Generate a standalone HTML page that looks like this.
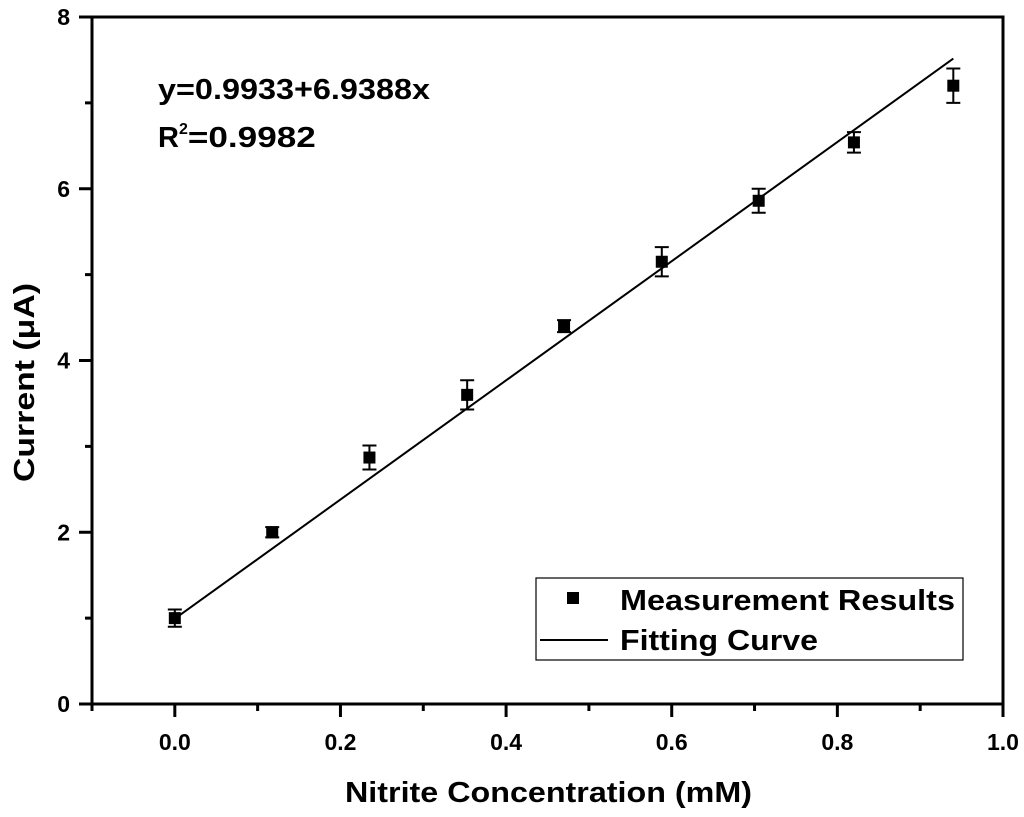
<!DOCTYPE html>
<html><head><meta charset="utf-8"><style>
body{margin:0;background:#fff}
svg{display:block;font-family:"Liberation Sans",Arial,sans-serif;font-weight:bold}
</style></head><body>
<svg id="chart" width="1024" height="817">
<g id="axes"></g><g id="marks"></g>
<text x="158" y="99" font-size="29" textLength="272" lengthAdjust="spacingAndGlyphs">y=0.9933+6.9388x</text>
<text x="158" y="147" font-size="29">R<tspan font-size="16" dy="-13">2</tspan><tspan dy="13" textLength="128" lengthAdjust="spacingAndGlyphs">=0.9982</tspan></text>
<text x="345" y="802" font-size="29" textLength="407" lengthAdjust="spacingAndGlyphs">Nitrite Concentration (mM)</text>
<text transform="translate(34,482) rotate(-90)" font-size="29" textLength="199" lengthAdjust="spacingAndGlyphs">Current (μA)</text>
<g>
<rect x="536" y="578" width="427" height="82" fill="#fff" stroke="#000" stroke-width="1.2"/>
<rect x="567" y="592" width="12" height="12" fill="#000"/>
<text x="620" y="610" font-size="29" textLength="335" lengthAdjust="spacingAndGlyphs">Measurement Results</text>
<line x1="540" y1="640" x2="608" y2="640" stroke="#000" stroke-width="2"/>
<text x="620" y="650" font-size="29" textLength="198" lengthAdjust="spacingAndGlyphs">Fitting Curve</text>
</g>
</svg>
<script>
const xs=[0,0.1176,0.235,0.353,0.47,0.588,0.705,0.82,0.94];
const ys=[1.0,2.0,2.87,3.6,4.4,5.15,5.86,6.54,7.2];
const errs=[0.1,0.06,0.14,0.17,0.07,0.17,0.14,0.12,0.2];
const intercept=0.9933, slope=6.9388;
const xTicks=[0,0.2,0.4,0.6,0.8,1.0];
const yTicks=[0,2,4,6,8];
const L=92,R=1003,T=17,B=704;
const X=v=>L+(v+0.1)/1.1*(R-L);
const Y=v=>B-v/8*(B-T);
const NS='http://www.w3.org/2000/svg';
function mk(p,tag,a){const e=document.createElementNS(NS,tag);for(const k in a)e.setAttribute(k,a[k]);p.appendChild(e);return e;}
const ax=document.getElementById('axes'),mg=document.getElementById('marks');
const frame=mk(ax,'rect',{x:L,y:T,width:R-L,height:B-T,fill:'none',stroke:'#000','stroke-width':3});


xTicks.forEach((v,i)=>{
 const t=mk(ax,'line',{x1:X(v),x2:X(v),y1:B,y2:B+13,stroke:'#000','stroke-width':3});
 
 
 const m=mk(ax,'line',{x1:X(v-0.1),x2:X(v-0.1),y1:B,y2:B+7,stroke:'#000','stroke-width':3});
 
 
 const l=mk(ax,'text',{x:X(v),y:B+46,'font-size':23,'text-anchor':'middle'});
 l.textContent=v.toFixed(1);
 
 
});
yTicks.forEach((v,i)=>{
 const t=mk(ax,'line',{x1:L-13,x2:L,y1:Y(v),y2:Y(v),stroke:'#000','stroke-width':3});
 
 
 if(v<8){const m=mk(ax,'line',{x1:L-7,x2:L,y1:Y(v+1),y2:Y(v+1),stroke:'#000','stroke-width':3});
 
 }
 const l=mk(ax,'text',{x:L-22,y:Y(v)+8,'font-size':23,'text-anchor':'end'});
 l.textContent=v;
 
 
});
const x0=xs[0],x1=xs[xs.length-1];
const fit=mk(mg,'line',{x1:X(x0),y1:Y(intercept+slope*x0),x2:X(x1),y2:Y(intercept+slope*x1),stroke:'#000','stroke-width':2});


xs.forEach((x,i)=>{
 const cx=X(x),cy=Y(ys[i]),t=Y(ys[i]+errs[i]),b=Y(ys[i]-errs[i]);
 const g=mk(mg,'g',{});
 
 
 mk(g,'path',{d:`M${cx},${t}V${b}M${cx-7},${t}H${cx+7}M${cx-7},${b}H${cx+7}`,stroke:'#000','stroke-width':2,fill:'none'});
 mk(g,'rect',{x:cx-6,y:cy-6,width:12,height:12,fill:'#000'});
});
</script>
</body></html>
